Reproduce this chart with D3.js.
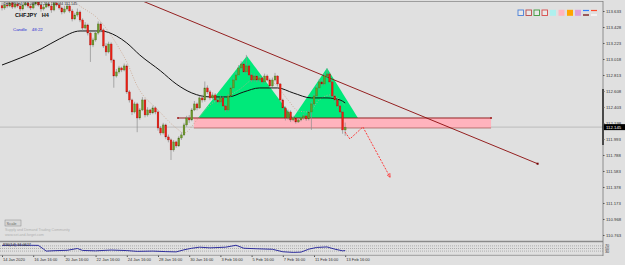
<!DOCTYPE html>
<html>
<head>
<meta charset="utf-8">
<script src="https://cdn.jsdelivr.net/npm/d3@7"></script>
<style>
body { margin: 0; background: #e0e0e0; }
svg { display: block; font-family: "Liberation Sans", Arial, sans-serif; }
</style>
</head>
<body>
<div id="chart"></div>
<script>
// CHFJPY H4 data
const firstOpen = 113.700;
const closes = [
  113.672,113.710,113.697,113.736,113.684,113.723,113.697,113.659,113.710,113.736,
  113.697,113.672,113.723,113.748,113.710,113.659,113.684,113.723,113.697,113.646,
  113.736,113.710,113.672,113.620,113.659,113.697,113.633,113.531,113.582,113.620,
  113.518,113.415,113.454,113.351,113.198,113.262,113.351,113.467,113.390,113.185,
  113.108,113.210,113.005,112.800,112.852,112.903,112.877,112.929,112.596,112.493,
  112.339,112.442,112.262,112.365,112.493,112.301,112.365,112.327,112.391,112.339,
  112.134,112.070,112.173,112.019,111.981,111.853,111.955,111.904,112.006,112.045,
  112.173,112.262,112.237,112.365,112.442,112.391,112.519,112.493,112.647,112.596,
  112.519,112.557,112.493,112.467,112.519,112.416,112.365,112.544,112.647,112.749,
  112.813,112.903,112.954,112.852,112.929,112.813,112.749,112.800,112.749,112.775,
  112.724,112.800,112.749,112.672,112.749,112.800,112.698,112.493,112.391,112.262,
  112.339,112.237,112.262,112.211,112.237,112.262,112.288,112.250,112.339,112.442,
  112.544,112.647,112.724,112.698,112.800,112.826,112.724,112.544,112.493,112.416,
  112.339,112.109,112.145
];
const highs = [
  113.745,113.760,113.740,113.790,113.760,113.770,113.750,113.720,113.745,113.800,
  113.765,113.720,113.760,113.810,113.775,113.730,113.720,113.770,113.745,113.715,
  113.790,113.780,113.735,113.690,113.700,113.745,113.720,113.660,113.610,113.665,
  113.640,113.540,113.490,113.470,113.370,113.290,113.380,113.500,113.490,113.410,
  113.220,113.240,113.230,113.020,112.890,112.930,112.920,112.960,112.950,112.620,
  112.510,112.470,112.460,112.390,112.530,112.510,112.400,112.380,112.420,112.410,
  112.360,112.160,112.200,112.190,112.050,112.000,111.980,111.970,112.030,112.080,
  112.200,112.290,112.300,112.390,112.480,112.460,112.550,112.560,112.730,112.680,
  112.620,112.590,112.580,112.520,112.550,112.540,112.440,112.570,112.680,112.780,
  112.850,112.940,112.990,112.980,113.070,112.950,112.840,112.830,112.820,112.800,
  112.790,112.830,112.820,112.770,112.780,112.840,112.810,112.710,112.510,112.410,
  112.370,112.360,112.290,112.280,112.260,112.280,112.310,112.300,112.360,112.470,
  112.570,112.680,112.760,112.750,112.840,112.900,112.850,112.740,112.570,112.520,
  112.440,112.360,112.204
];
const lows = [
  113.640,113.650,113.670,113.680,113.660,113.665,113.675,113.630,113.640,113.695,
  113.670,113.645,113.655,113.700,113.690,113.625,113.640,113.670,113.675,113.610,
  113.630,113.690,113.650,113.590,113.600,113.640,113.610,113.500,113.515,113.560,
  113.490,113.380,113.395,113.320,112.980,113.170,113.240,113.330,113.360,113.160,
  113.060,113.090,112.970,112.650,112.780,112.830,112.850,112.860,112.570,112.460,
  112.300,112.320,112.080,112.240,112.350,112.270,112.280,112.300,112.310,112.310,
  112.100,112.040,112.050,111.990,111.950,111.724,111.830,111.880,111.890,111.980,
  112.030,112.150,112.200,112.220,112.350,112.360,112.380,112.460,112.470,112.570,
  112.490,112.500,112.470,112.440,112.450,112.390,112.340,112.350,112.530,112.630,
  112.730,112.800,112.880,112.830,112.840,112.790,112.720,112.730,112.720,112.730,
  112.700,112.710,112.730,112.650,112.660,112.730,112.670,112.470,112.360,112.230,
  112.240,112.210,112.220,112.190,112.200,112.220,112.240,112.225,112.230,112.110,
  112.420,112.530,112.620,112.670,112.680,112.780,112.700,112.520,112.460,112.390,
  112.310,112.060,112.034
];

// slow moving average (black) [bar, price]
const maSlow = [
  [0,112.941],[7,113.031],[15,113.146],[22,113.274],[30,113.377],[38,113.377],
  [44,113.313],[48,113.223],[53,113.069],[61,112.865],[67,112.698],[73,112.583],
  [80,112.532],[87,112.532],[93,112.596],[99,112.647],[106,112.647],[112,112.583],
  [119,112.519],[125,112.519],[130,112.493],[132,112.455]
];
// fast moving average (dotted) [bar, price]
const maFast = [
  [28,113.748],[30,113.697],[37,113.531],[45,113.159],[48,112.980],[52,112.672],
  [60,112.365],[67,112.134],[70,112.070],[75,112.237],[80,112.429],[86,112.531],
  [91,112.621],[98,112.775],[104,112.724],[110,112.493],[114,112.352],[118,112.339],
  [122,112.493],[126,112.557],[130,112.493],[132,112.416]
];

// pattern drawings [bar, price]
const shoulderLeft  = [[75.4,112.262],[94.2,113.057],[111.9,112.262]];
const shoulderRight = [[111.9,112.262],[125.0,112.903],[136.9,112.262]];
const zone = { from: 73.8, to: 188.1, top: 112.262, bottom: 112.134 };
const neckline = [[67.7,112.262],[188.1,112.262]];
const trendLine = [[50,113.817],[206,111.676]];
const projection = [[131.9,112.083],[133.8,111.993],[138.8,112.147],[149.2,111.507]];
const bidPrice = 112.145;

// oscillator pane [bar, value]
const oscValues = [
  [0,74],[5,76],[10,75],[14,74],[16,45],[17,30],[20,33],[25,36],[29,50],[31,35],
  [36,32],[42,38],[48,34],[52,28],[58,30],[63,26],[67,24],[70,40],[73,52],[76,60],
  [80,55],[86,60],[90,75],[93,52],[98,48],[104,44],[108,25],[112,20],[115,22],
  [118,45],[121,58],[125,62],[128,45],[131,32],[132,34]
];
const oscLevels = [70, 50, 30];

// axis labels
const priceTicks = [113.633,113.428,113.223,113.018,112.813,112.608,112.403,112.198,
  111.993,111.788,111.583,111.378,111.173,110.968,110.763];
const timeBars = [0,12,24,36,48,60,72,84,96,108,120,132];
const timeLabels = ['14 Jan 2020','16 Jan 16:00','20 Jan 16:00','22 Jan 16:00',
  '24 Jan 16:00','28 Jan 16:00','30 Jan 16:00','3 Feb 16:00','5 Feb 16:00',
  '7 Feb 16:00','11 Feb 16:00','13 Feb 16:00'];

const width = 625;
const height = 265;
const plotRight = 603;

const svg = d3.select('#chart').append('svg')
  .attr('width', width)
  .attr('height', height);

svg.append('rect').attr('width', width).attr('height', height).attr('fill', '#e0e0e0');

const x = d3.scaleLinear().domain([0, 132]).range([2, 345.2]);
const y = d3.scaleLinear().domain([110.737, 113.774]).range([237, 0]);
const yOsc = d3.scaleLinear().domain([0, 100]).range([255, 242]);

const defs = svg.append('defs');
defs.append('clipPath').attr('id', 'clipMain')
  .append('rect').attr('x', 0).attr('y', 2).attr('width', plotRight).attr('height', 238);
defs.append('marker')
  .attr('id', 'arrowHead')
  .attr('viewBox', '0 0 10 10')
  .attr('refX', 8).attr('refY', 5)
  .attr('markerWidth', 5).attr('markerHeight', 5)
  .attr('orient', 'auto')
  .append('path').attr('d', 'M0,1 L9,5 L0,9').attr('fill', 'none')
  .attr('stroke', '#ff2a2a').attr('stroke-width', 1.6);

const main = svg.append('g').attr('clip-path', 'url(#clipMain)');

// bid line
main.append('line')
  .attr('x1', 0).attr('x2', plotRight)
  .attr('y1', y(bidPrice)).attr('y2', y(bidPrice))
  .attr('stroke', '#b4b4b4').attr('stroke-width', 0.8);

// demand zone
main.append('rect')
  .attr('x', x(zone.from))
  .attr('y', y(zone.top))
  .attr('width', x(zone.to) - x(zone.from))
  .attr('height', y(zone.bottom) - y(zone.top))
  .attr('fill', '#ffb3bd');
main.append('line')
  .attr('x1', x(zone.from)).attr('x2', x(zone.to))
  .attr('y1', y(zone.bottom)).attr('y2', y(zone.bottom))
  .attr('stroke', '#a8605c').attr('stroke-width', 0.8);

// shoulders
const poly = d3.line().x(d => x(d[0])).y(d => y(d[1]));
[shoulderLeft, shoulderRight].forEach(t => {
  main.append('path')
    .attr('d', poly(t) + 'Z')
    .attr('fill', '#00e97a');
});

// neckline
main.append('path')
  .attr('d', poly(neckline))
  .attr('stroke', '#8b1010').attr('stroke-width', 0.9).attr('fill', 'none');
main.selectAll('.neckDot')
  .data(neckline)
  .enter()
  .append('circle')
  .attr('class', 'neckDot')
  .attr('cx', d => x(d[0])).attr('cy', d => y(d[1]))
  .attr('r', 1).attr('fill', '#a02020');

// trend line
main.append('path')
  .attr('d', poly(trendLine))
  .attr('stroke', '#8b0a0a').attr('stroke-width', 0.9).attr('fill', 'none');
main.append('rect')
  .attr('x', x(trendLine[1][0]) - 1).attr('y', y(trendLine[1][1]) - 1)
  .attr('width', 2).attr('height', 2).attr('fill', '#700000');

// moving averages
const curve = d3.line().x(d => x(d[0])).y(d => y(d[1])).curve(d3.curveMonotoneX);
main.append('path')
  .attr('d', curve(maFast))
  .attr('fill', 'none').attr('stroke', '#c9a58e')
  .attr('stroke-width', 0.8).attr('stroke-dasharray', '1,1.5');
main.append('path')
  .attr('d', curve(maSlow))
  .attr('fill', 'none').attr('stroke', '#111').attr('stroke-width', 1);

// candles
const opens = [firstOpen].concat(closes.slice(0, -1));
const candles = closes.map((c, i) => ({ i: i, o: opens[i], h: highs[i], l: lows[i], c: c }));

const candleGroup = main.append('g');
candleGroup.selectAll('.wick')
  .data(candles)
  .enter()
  .append('line')
  .attr('class', 'wick')
  .attr('x1', d => x(d.i)).attr('x2', d => x(d.i))
  .attr('y1', d => y(d.h)).attr('y2', d => y(d.l))
  .attr('stroke', '#8e8e8e').attr('stroke-width', 0.7);
candleGroup.selectAll('.body')
  .data(candles)
  .enter()
  .append('rect')
  .attr('class', 'body')
  .attr('x', d => x(d.i) - 0.9)
  .attr('width', 1.8)
  .attr('y', d => y(Math.max(d.o, d.c)))
  .attr('height', d => Math.max(0.7, Math.abs(y(d.o) - y(d.c))))
  .attr('fill', d => d.c >= d.o ? '#6c9a2a' : '#ee1d12')
  .attr('stroke', d => d.c >= d.o ? '#4a6b1a' : '#9a1510')
  .attr('stroke-width', 0.3);

// projected move
main.append('path')
  .attr('d', poly(projection))
  .attr('fill', 'none').attr('stroke', '#ff2a2a')
  .attr('stroke-width', 0.9).attr('stroke-dasharray', '2,1.3')
  .attr('marker-end', 'url(#arrowHead)');

// frame lines
svg.append('line').attr('x1', 0).attr('x2', plotRight).attr('y1', 1.5).attr('y2', 1.5)
  .attr('stroke', '#8c8c8c').attr('stroke-width', 0.8);
svg.append('line').attr('x1', 0).attr('x2', plotRight).attr('y1', 241.5).attr('y2', 241.5)
  .attr('stroke', '#8a8a8a').attr('stroke-width', 1.6);
svg.append('line').attr('x1', 0).attr('x2', plotRight).attr('y1', 255.3).attr('y2', 255.3)
  .attr('stroke', '#8a8a8a').attr('stroke-width', 0.8);
svg.append('line').attr('x1', plotRight).attr('x2', plotRight).attr('y1', 1).attr('y2', 256)
  .attr('stroke', '#7a7a7a').attr('stroke-width', 0.8);
svg.append('line').attr('x1', plotRight).attr('x2', plotRight).attr('y1', 89).attr('y2', 145)
  .attr('stroke', '#000').attr('stroke-width', 1.2);

// price axis
const priceAxis = svg.append('g')
  .attr('transform', `translate(${plotRight},0)`)
  .call(d3.axisRight(y).tickValues(priceTicks).tickFormat(d3.format('.3f')).tickSize(1.5).tickPadding(1.5));
priceAxis.select('.domain').remove();
priceAxis.selectAll('line').attr('stroke', '#555');
priceAxis.selectAll('text').attr('font-size', 4.3).attr('fill', '#333').attr('font-family', 'Liberation Sans, Arial');

// current price label
svg.append('rect').attr('x', plotRight + 1).attr('y', y(bidPrice) - 3).attr('width', 21).attr('height', 6).attr('fill', '#000');
svg.append('text').attr('x', plotRight + 3).attr('y', y(bidPrice) + 1.5)
  .attr('font-size', 4.3).attr('fill', '#fff').text(d3.format('.3f')(bidPrice));

// time axis
const timeAxis = svg.append('g')
  .attr('transform', 'translate(0,255.5)')
  .call(d3.axisBottom(x).tickValues(timeBars).tickFormat((d, i) => timeLabels[i]).tickSize(1.5).tickPadding(1.5));
timeAxis.select('.domain').remove();
timeAxis.selectAll('line').attr('stroke', '#555');
timeAxis.selectAll('text').attr('font-size', 4).attr('fill', '#333')
  .attr('text-anchor', 'start').attr('dx', 0.5).attr('font-family', 'Liberation Sans, Arial');

// oscillator pane
svg.selectAll('.oscLevel')
  .data(oscLevels)
  .enter()
  .append('line')
  .attr('class', 'oscLevel')
  .attr('x1', 0).attr('x2', plotRight)
  .attr('y1', d => yOsc(d)).attr('y2', d => yOsc(d))
  .attr('stroke', '#8a8a8a').attr('stroke-width', 0.6).attr('stroke-dasharray', '1,1');
svg.selectAll('.oscLabel')
  .data(oscLevels)
  .enter()
  .append('text')
  .attr('class', 'oscLabel')
  .attr('x', plotRight + 2).attr('y', d => yOsc(d) + 1.5)
  .attr('font-size', 3.8).attr('fill', '#333')
  .text(d => d);
svg.append('path')
  .attr('d', d3.line().x(d => x(d[0])).y(d => yOsc(d[1]))(oscValues))
  .attr('fill', 'none').attr('stroke', '#1c1c96').attr('stroke-width', 0.9);
svg.append('text').attr('x', 3).attr('y', 245.5)
  .attr('font-size', 3.8).attr('fill', '#222').text('RSI(14) 34.0627');

// header texts
svg.append('text').attr('x', 3).attr('y', 4.5)
  .attr('font-size', 3.6).attr('fill', '#222').text('CHFJPY,H4  112.089 112.204 112.034 112.145');
svg.append('text').attr('x', 15).attr('y', 17)
  .attr('font-size', 5.6).attr('font-weight', 'bold').attr('fill', '#111')
  .attr('xml:space', 'preserve').text('CHFJPY   H4');
svg.append('text').attr('x', 13).attr('y', 31)
  .attr('font-size', 4.4).attr('fill', '#2b2bd0')
  .attr('xml:space', 'preserve').text('Candle    48:22');

// scale button and watermark
svg.append('rect').attr('x', 5).attr('y', 220).attr('width', 16).attr('height', 6)
  .attr('fill', '#d8d8d8').attr('stroke', '#888').attr('stroke-width', 0.5);
svg.append('text').attr('x', 6.5).attr('y', 224.7).attr('font-size', 4).attr('fill', '#666').text('Scale');
svg.append('text').attr('x', 5).attr('y', 231).attr('font-size', 3.6).attr('fill', '#b0b0b0')
  .text('Supply and Demand Trading Community');
svg.append('text').attr('x', 5).attr('y', 235.5).attr('font-size', 3.6).attr('fill', '#b0b0b0')
  .text('www.set-and-forget.com');

// toolbar icons top right
const outlineIcons = [['#4a7fd8', 518], ['#b84848', 526], ['#3c9a3c', 534], ['#d84848', 542]];
outlineIcons.forEach(([c, px]) => {
  svg.append('rect').attr('x', px).attr('y', 10).attr('width', 5.5).attr('height', 5.5)
    .attr('fill', '#e8e8e8').attr('stroke', c).attr('stroke-width', 0.9);
});
const fillIcons = [['#aef0ee', 550], ['#ffb6c1', 558.5], ['#ffa500', 567], ['#dda0dd', 575]];
fillIcons.forEach(([c, px]) => {
  svg.append('rect').attr('x', px).attr('y', 9.8).attr('width', 6).attr('height', 6).attr('fill', c);
});
[['#2e7fff', 583, 10.5], ['#6b0000', 583, 15], ['#ff4a2a', 591, 10.5], ['#ffffff', 591, 15]].forEach(([c, px, py]) => {
  svg.append('line').attr('x1', px).attr('x2', px + 6).attr('y1', py).attr('y2', py)
    .attr('stroke', c).attr('stroke-width', 1.2);
});
</script>
</body>
</html>
